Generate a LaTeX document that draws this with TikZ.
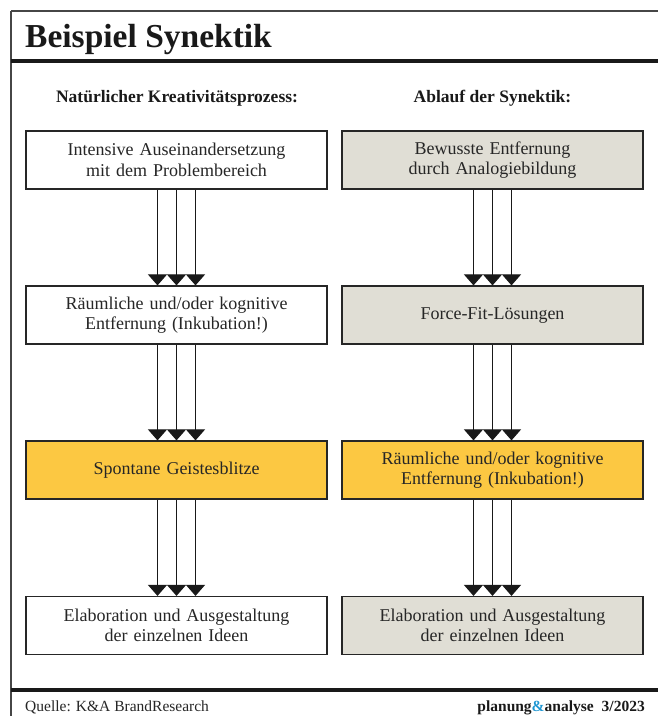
\documentclass[tikz,border=0pt]{standalone}
\usepackage{fontspec}
\setmainfont{Liberation Serif}
\usetikzlibrary{arrows.meta}
\definecolor{boxgray}{RGB}{224,222,213}
\definecolor{boxyellow}{RGB}{252,200,66}
\definecolor{framegray}{RGB}{70,70,70}
\definecolor{pablue}{RGB}{30,150,210}
\tikzset{
  flowbox/.style={draw=black!85, line width=1.2pt, minimum width=301pt, minimum height=58pt,
    text width=295pt, align=center, inner sep=0pt, font=\fontsize{18}{20.5}\selectfont, text=black!85},
  whitebox/.style={flowbox, fill=white},
  graybox/.style={flowbox, fill=boxgray},
  yellowbox/.style={flowbox, fill=boxyellow},
  flowarrow/.style={line width=1.1pt, draw=black!90, -{Triangle[width=19pt,length=11pt]}},
  heading/.style={font=\bfseries\fontsize{17.5}{20}\selectfont, text=black!90},
  frameline/.style={draw=framegray, line width=1.3pt},
  thickline/.style={draw=black!90, line width=3.5pt}
}
\begin{document}
\begin{tikzpicture}[x=1pt,y=-1pt]
\useasboundingbox (0,0) rectangle (658,716);
% frame
\draw[frameline] (11,11) -- (658,11);
\draw[frameline] (11,11) -- (11,716);
\draw[thickline] (11,61) -- (658,61);
\draw[thickline] (11,690) -- (658,690);
% title
\node[anchor=base west, font=\bfseries\fontsize{33.5}{36}\selectfont, text=black!90, inner sep=0pt] (title) at (25,47) {Beispiel Synektik};
% headings
\node[heading] (hl) at (177,98) {Natürlicher Kreativitätsprozess:};
\node[heading] (hr) at (492.5,98) {Ablauf der Synektik:};
% left column
\node[whitebox] (l1) at (176.5,160) {Intensive Auseinandersetzung\\mit dem Problembereich};
\node[whitebox] (l2) at (176.5,315) {Räumliche und/oder kognitive\\Entfernung (Inkubation!)};
\node[yellowbox] (l3) at (176.5,470) {Spontane Geistesblitze};
\node[whitebox] (l4) at (176.5,625.5) {Elaboration und Ausgestaltung\\der einzelnen Ideen};
% right column
\node[graybox] (r1) at (492.5,160) {Bewusste Entfernung\\durch Analogiebildung};
\node[graybox] (r2) at (492.5,315) {Force-Fit-Lösungen};
\node[yellowbox] (r3) at (492.5,470) {Räumliche und/oder kognitive\\Entfernung (Inkubation!)};
\node[graybox] (r4) at (492.5,625.5) {Elaboration und Ausgestaltung\\der einzelnen Ideen};
% arrows
\foreach \a/\b in {l1/l2,l2/l3,l3/l4,r1/r2,r2/r3,r3/r4}{
  \foreach \s in {-19,0,19}{
    \draw[flowarrow] ([xshift=\s pt]\a.south) -- ([xshift=\s pt]\b.north);
  }
}
% footer
\node[anchor=base west, font=\fontsize{15.5}{18}\selectfont, text=black!85, inner sep=0pt] (src) at (25,711) {Quelle: K\&A BrandResearch};
\node[anchor=base east, font=\bfseries\fontsize{15.5}{18}\selectfont, text=black!90, inner sep=0pt] (pub) at (645,711) {planung{\color{pablue}\&}analyse\hspace{8pt}3/2023};
\end{tikzpicture}
\end{document}
